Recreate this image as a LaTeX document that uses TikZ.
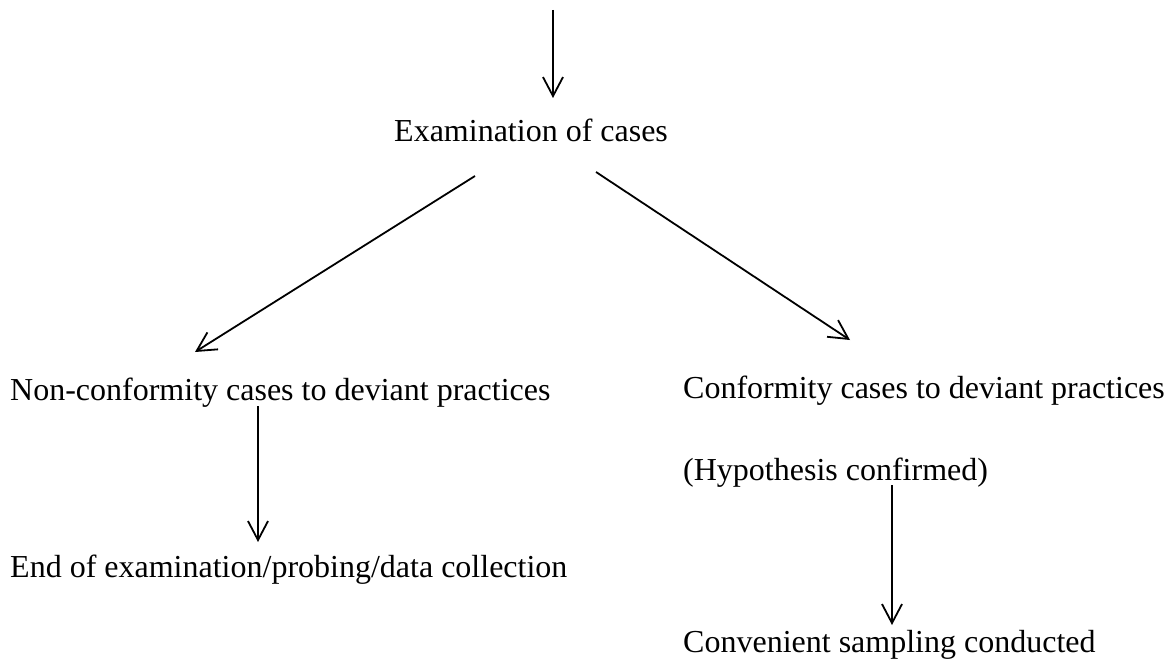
\documentclass[tikz,border=0pt]{standalone}
\usepackage{fontspec}
\setmainfont{Liberation Serif}
\usetikzlibrary{arrows.meta}
\begin{document}
\begin{tikzpicture}[x=1pt,y=-1pt,
  lbl/.style={inner sep=0pt,anchor=base west,font=\fontsize{32}{38}\selectfont},
  conn/.style={line width=1.8pt,-{Straight Barb[length=19pt,width=20pt,line width=1.8pt]}}]
\useasboundingbox[fill=white] (0,0) rectangle (1171,669);
\node[lbl] (exam) at (394,141) {Examination of cases};
\node[lbl] (nonconf) at (10,400) {Non-conformity cases to deviant practices};
\node[lbl] (endex) at (10,577) {End of examination/probing/data collection};
\node[lbl] (conf) at (683,398) {Conformity cases to deviant practices};
\node[lbl] (hyp) at (683,480) {(Hypothesis confirmed)};
\node[lbl] (conv) at (683,652) {Convenient sampling conducted};
\coordinate (t0) at (553,10);
\coordinate (t1) at (553,98);
\coordinate (l0) at (475,176);
\coordinate (l1) at (195,352);
\coordinate (r0) at (596,172);
\coordinate (r1) at (850,340);
\coordinate (lv0) at (258,406);
\coordinate (lv1) at (258,542);
\coordinate (rv0) at (892,485);
\coordinate (rv1) at (892,625);
\draw[conn] (t0) -- (t1);
\draw[conn] (l0) -- (l1);
\draw[conn] (r0) -- (r1);
\draw[conn] (lv0) -- (lv1);
\draw[conn] (rv0) -- (rv1);
\end{tikzpicture}
\end{document}
